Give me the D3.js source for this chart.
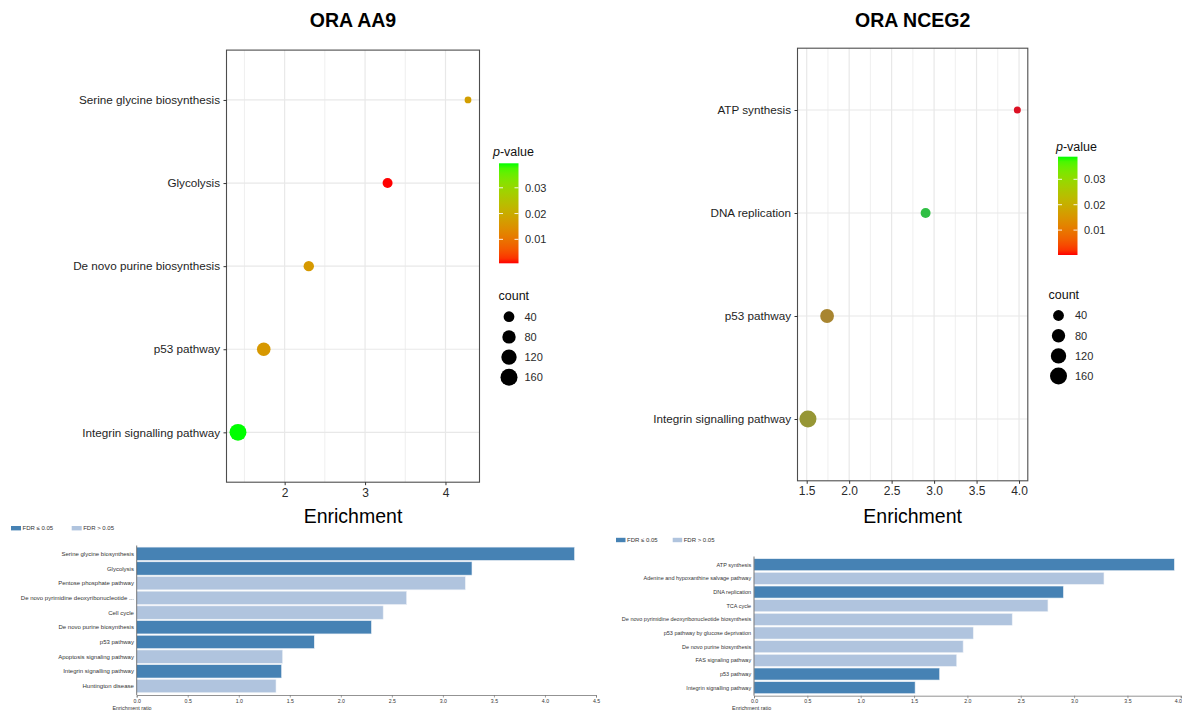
<!DOCTYPE html>
<html>
<head>
<meta charset="utf-8">
<script src="https://cdn.jsdelivr.net/npm/d3@7"></script>
<style>
  body { margin: 0; background: #fff; }
  svg { display: block; }
  text { font-family: "Liberation Sans", Arial, Helvetica, sans-serif; }
</style>
</head>
<body>
<svg id="fig" width="1182" height="710"></svg>
<script>
// ---------- ORA AA9 : over-representation dot plot ----------
const aa9Terms = ["Serine glycine biosynthesis", "Glycolysis", "De novo purine biosynthesis", "p53 pathway", "Integrin signalling pathway"];
const aa9Enrichment = [4.28, 3.28, 2.30, 1.74, 1.42];
const aa9PValue = [0.0174, 0.0007, 0.0163, 0.0162, 0.0395];
const aa9Count = [5, 30, 35, 84, 158];

// ---------- ORA NCEG2 : over-representation dot plot ----------
const nceg2Terms = ["ATP synthesis", "DNA replication", "p53 pathway", "Integrin signalling pathway"];
const nceg2Enrichment = [3.98, 2.90, 1.74, 1.515];
const nceg2PValue = [0.0002, 0.0389, 0.0195, 0.0245];
const nceg2Count = [6, 30, 88, 160];

// legend breaks shared by both dot plots
const countBreaks = [40, 80, 120, 160];
const pBreaks = [0.01, 0.02, 0.03];

// ---------- enrichment ratio bar charts ----------
const aa9BarTerms = ["Serine glycine biosynthesis", "Glycolysis", "Pentose phosphate pathway", "De novo pyrimidine deoxyribonucleotide ...", "Cell cycle", "De novo purine biosynthesis", "p53 pathway", "Apoptosis signaling pathway", "Integrin signalling pathway", "Huntington disease"];
const aa9BarRatio = [4.29, 3.285, 3.22, 2.645, 2.415, 2.30, 1.74, 1.43, 1.42, 1.365];
const aa9BarSignificant = [true, true, false, false, false, true, true, false, true, false];

const nceg2BarTerms = ["ATP synthesis", "Adenine and hypoxanthine salvage pathway", "DNA replication", "TCA cycle", "De novo pyrimidine deoxyribonucleotide biosynthesis", "p53 pathway by glucose deprivation", "De novo purine biosynthesis", "FAS signaling pathway", "p53 pathway", "Integrin signalling pathway"];
const nceg2BarRatio = [3.94, 3.28, 2.90, 2.755, 2.42, 2.055, 1.96, 1.90, 1.74, 1.51];
const nceg2BarSignificant = [true, false, true, false, false, false, false, false, true, true];

const fdrLegend = ["FDR \u2264 0.05", "FDR > 0.05"];
const barColors = ["#4682b4", "#b0c4de"];

const W = 1182;
const svg = d3.select("#fig");
svg.append("rect").attr("width", W).attr("height", 710).attr("fill", "#fff");
const defs = svg.append("defs");

function dotPlot(o) {
  const g = svg.append("g");
  const [lo, hi] = d3.extent(o.enrichment);
  const pad = (hi - lo) * 0.05;
  const x = d3.scaleLinear().domain([lo - pad, hi + pad]).range([o.left, o.right]);
  const y = d3.scalePoint().domain(o.terms).range([o.top, o.bottom]).padding(0.6);
  const pExtent = d3.extent(o.pvalue);
  const barColor = d3.scaleLinear().domain(pExtent).range(["#ff0000", "#00ff00"]).interpolate(d3.interpolateLab);
  const pointColor = d3.scaleLinear().domain(pExtent).range(o.pointRange).interpolate(d3.interpolateLab);
  const radius = d3.scaleSqrt().domain([40, 160]).range([5.4, 8.5]);

  // grid
  g.selectAll(".minor").data(o.minorTicks).join("line")
    .attr("x1", d => x(d)).attr("x2", d => x(d))
    .attr("y1", o.top).attr("y2", o.bottom)
    .attr("stroke", "#ededed").attr("stroke-width", 0.9);
  g.selectAll(".major").data(o.majorTicks).join("line")
    .attr("x1", d => x(d)).attr("x2", d => x(d))
    .attr("y1", o.top).attr("y2", o.bottom)
    .attr("stroke", "#e8e8e8").attr("stroke-width", 1.2);
  g.selectAll(".hgrid").data(o.terms).join("line")
    .attr("x1", o.left).attr("x2", o.right)
    .attr("y1", d => y(d)).attr("y2", d => y(d))
    .attr("stroke", "#e8e8e8").attr("stroke-width", 1.2);

  // points
  g.selectAll(".pt").data(o.terms).join("circle")
    .attr("cx", (d, i) => x(o.enrichment[i]))
    .attr("cy", d => y(d))
    .attr("r", (d, i) => radius(o.count[i]))
    .attr("fill", (d, i) => pointColor(o.pvalue[i]));

  // panel border
  g.append("rect")
    .attr("x", o.left).attr("y", o.top)
    .attr("width", o.right - o.left).attr("height", o.bottom - o.top)
    .attr("fill", "none").attr("stroke", "#4d4d4d").attr("stroke-width", 1.1);

  // axes
  const ax = g.append("g").attr("transform", `translate(0,${o.bottom})`)
    .call(d3.axisBottom(x).tickValues(o.majorTicks).tickFormat(o.fmt).tickSize(3).tickPadding(3));
  ax.select(".domain").remove();
  ax.selectAll("line").attr("stroke", "#333");
  ax.selectAll("text").attr("font-size", 12).attr("fill", "#2a2a2a")
    .attr("font-family", "Liberation Sans, Arial, sans-serif");

  const ay = g.append("g").attr("transform", `translate(${o.left},0)`)
    .call(d3.axisLeft(y).tickSize(3).tickPadding(3.5));
  ay.select(".domain").remove();
  ay.selectAll("line").attr("stroke", "#333");
  ay.selectAll("text").attr("font-size", 11.7).attr("fill", "#1e1e1e")
    .attr("font-family", "Liberation Sans, Arial, sans-serif");

  // titles
  const cx = (o.left + o.right) / 2;
  g.append("text").attr("x", cx).attr("y", 27).attr("text-anchor", "middle")
    .attr("font-size", 19.5).attr("font-weight", "bold").attr("fill", "#000").text(o.title);
  g.append("text").attr("x", cx).attr("y", 522.5).attr("text-anchor", "middle")
    .attr("font-size", 19.5).attr("fill", "#000").text("Enrichment");

  // colour bar legend
  const L = o.legend;
  const gid = "grad-" + o.id;
  const grad = defs.append("linearGradient").attr("id", gid)
    .attr("x1", 0).attr("y1", 1).attr("x2", 0).attr("y2", 0);
  d3.range(0, 1.0001, 0.05).forEach(t => {
    grad.append("stop").attr("offset", t)
      .attr("stop-color", barColor(pExtent[0] + t * (pExtent[1] - pExtent[0])));
  });
  const pt = g.append("text").attr("x", L.titleX).attr("y", L.titleY)
    .attr("font-size", 12.5).attr("fill", "#111");
  pt.append("tspan").attr("font-style", "italic").text("p");
  pt.append("tspan").text("-value");
  const barW = 19.5;
  g.append("rect").attr("x", L.barX).attr("y", L.barTop)
    .attr("width", barW).attr("height", L.barBottom - L.barTop)
    .attr("fill", `url(#${gid})`);
  const py = d3.scaleLinear().domain(pExtent).range([L.barBottom, L.barTop]);
  pBreaks.forEach(b => {
    const yy = py(b);
    g.append("line").attr("x1", L.barX).attr("x2", L.barX + 4).attr("y1", yy).attr("y2", yy)
      .attr("stroke", "#fff").attr("stroke-width", 0.9);
    g.append("line").attr("x1", L.barX + barW - 4).attr("x2", L.barX + barW).attr("y1", yy).attr("y2", yy)
      .attr("stroke", "#fff").attr("stroke-width", 0.9);
    g.append("text").attr("x", L.barLabelX).attr("y", yy).attr("dy", "0.36em")
      .attr("font-size", 11).attr("fill", "#2a2a2a").text(d3.format(".2f")(b));
  });

  // size legend
  g.append("text").attr("x", L.countX).attr("y", L.countY)
    .attr("font-size", 12.5).attr("fill", "#111").text("count");
  countBreaks.forEach((c, i) => {
    const yy = L.circleY + i * 20.2;
    g.append("circle").attr("cx", L.circleX).attr("cy", yy).attr("r", radius(c)).attr("fill", "#000");
    g.append("text").attr("x", L.circleLabelX).attr("y", yy).attr("dy", "0.36em")
      .attr("font-size", 11).attr("fill", "#2a2a2a").text(c);
  });
}

dotPlot({
  id: "aa9", title: "ORA AA9",
  terms: aa9Terms, enrichment: aa9Enrichment, pvalue: aa9PValue, count: aa9Count,
  left: 226.5, right: 479.5, top: 50.1, bottom: 482.2,
  majorTicks: [2, 3, 4], minorTicks: [1.5, 2.5, 3.5], fmt: d3.format("d"),
  pointRange: ["#ff0000", "#00ff00"],
  legend: { titleX: 493, titleY: 156, barX: 499, barTop: 163.3, barBottom: 263.3, barLabelX: 525,
            countX: 498.5, countY: 300, circleX: 509, circleY: 316.7, circleLabelX: 524.5 }
});

dotPlot({
  id: "nceg2", title: "ORA NCEG2",
  terms: nceg2Terms, enrichment: nceg2Enrichment, pvalue: nceg2PValue, count: nceg2Count,
  left: 797.5, right: 1027.8, top: 48.2, bottom: 480.8,
  majorTicks: [1.5, 2.0, 2.5, 3.0, 3.5, 4.0], minorTicks: [1.75, 2.25, 2.75, 3.25, 3.75], fmt: d3.format(".1f"),
  pointRange: ["#dc1023", "#30bf44"],
  legend: { titleX: 1056, titleY: 151, barX: 1058, barTop: 156.7, barBottom: 255, barLabelX: 1084,
            countX: 1048.5, countY: 298.5, circleX: 1058.5, circleY: 315.5, circleLabelX: 1075 }
});

function barChart(o) {
  const g = svg.append("g");
  const x = d3.scaleLinear().domain([0, o.xMax]).range([o.x0, o.x1]);
  const y = d3.scaleBand().domain(o.terms).range([o.top, o.bottom])
    .paddingInner(o.padIn).paddingOuter(o.padOut);

  g.selectAll(".bar").data(o.terms).join("rect")
    .attr("x", x(0)).attr("y", d => y(d))
    .attr("width", (d, i) => x(o.ratio[i]) - x(0))
    .attr("height", y.bandwidth())
    .attr("fill", (d, i) => o.sig[i] ? barColors[0] : barColors[1])
    .attr("stroke", "#eef2f7").attr("stroke-width", 0.6);

  g.selectAll(".lbl").data(o.terms).join("text")
    .attr("x", x(0) - 2.8).attr("y", d => y(d) + y.bandwidth() / 2).attr("dy", "0.35em")
    .attr("text-anchor", "end").attr("font-size", o.labelSize).attr("fill", "#333").text(d => d);

  // vertical axis line
  g.append("line").attr("x1", x(0)).attr("x2", x(0))
    .attr("y1", o.axisTop).attr("y2", o.axisY)
    .attr("stroke", "#555").attr("stroke-width", 0.8);

  const ax = g.append("g").attr("transform", `translate(0,${o.axisY})`)
    .call(d3.axisBottom(x).tickValues(d3.range(0, o.xMax + 0.001, 0.5))
      .tickFormat(d3.format(".1f")).tickSize(2.5).tickPadding(1.5));
  ax.select(".domain").attr("stroke", "#777").attr("stroke-width", 0.8);
  ax.selectAll("line").attr("stroke", "#777").attr("stroke-width", 0.7);
  ax.selectAll("text").attr("font-size", 5.2).attr("fill", "#333")
    .attr("font-family", "Liberation Sans, Arial, sans-serif");
  // keep a tick label that would run past the page edge inside it
  ax.selectAll(".tick").each(function (d) {
    if (x(d) + 4 > W) d3.select(this).select("text").attr("text-anchor", "end").attr("x", W - 0.5 - x(d));
  });

  g.append("text").attr("x", o.axisTitleX).attr("y", 709.6).attr("text-anchor", "middle")
    .attr("font-size", 5.4).attr("fill", "#333").text("Enrichment ratio");

  // FDR legend
  o.legend.forEach((lg, i) => {
    g.append("rect").attr("x", lg.x).attr("y", o.legendY - 2.2)
      .attr("width", lg.w).attr("height", 4.4).attr("fill", barColors[i]);
    g.append("text").attr("x", lg.x + lg.w + 1.5).attr("y", o.legendY).attr("dy", "0.35em")
      .attr("font-family", "Liberation Serif, Times New Roman, serif")
      .attr("font-size", 6).attr("fill", "#333").text(fdrLegend[i]);
  });
}

barChart({
  terms: aa9BarTerms, ratio: aa9BarRatio, sig: aa9BarSignificant,
  xMax: 4.5, x0: 136.7, x1: 596, top: 546.5, bottom: 693.3, padIn: 0.09, padOut: 0.04,
  axisTop: 545.5, axisY: 695, labelSize: 6, axisTitleX: 132,
  legendY: 528.2, legend: [{ x: 11, w: 10 }, { x: 71.7, w: 10 }]
});

barChart({
  terms: nceg2BarTerms, ratio: nceg2BarRatio, sig: nceg2BarSignificant,
  xMax: 4, x0: 754, x1: 1180.8, top: 558.15, bottom: 694.25, padIn: 0.12, padOut: 0.04,
  axisTop: 556.5, axisY: 695.7, labelSize: 5.5, axisTitleX: 751.7,
  legendY: 540, legend: [{ x: 616, w: 9.5 }, { x: 672.7, w: 9.5 }]
});
</script>
</body>
</html>
